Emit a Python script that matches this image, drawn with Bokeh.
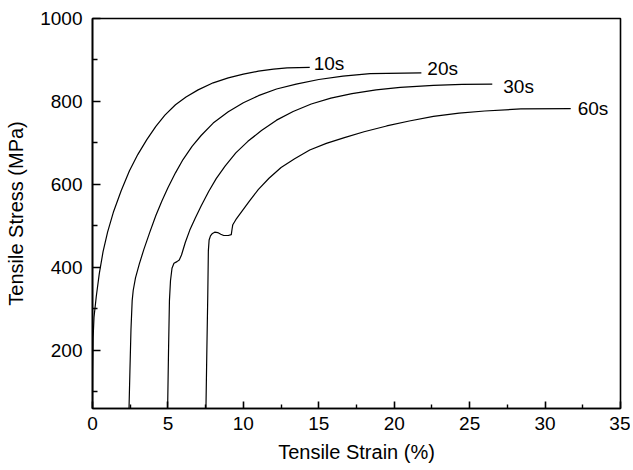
from bokeh.plotting import figure
from bokeh.models import FixedTicker, ColumnDataSource, Range1d
from bokeh.core.properties import value
from bokeh.embed import file_html
from bokeh.resources import INLINE

# ---------------- data ----------------
x_10s = [0.0, 0.01, 0.04, 0.1, 0.25, 0.45, 0.7, 1.0, 1.4, 1.9, 2.45, 3.0, 3.6, 4.2, 4.8,
         5.5, 6.2, 7.0, 8.0, 9.0, 10.0, 11.0, 12.0, 12.9, 14.4]
y_10s = [60, 150, 230, 280, 330, 385, 438, 485, 535, 585, 633, 672, 708, 740, 767,
         792, 811, 828, 845, 857, 866, 873, 878, 881, 882]

x_20s = [2.42, 2.48, 2.55, 2.63, 2.7, 2.85, 3.1, 3.4, 3.8, 4.2, 4.6, 5.0, 5.5, 6.0, 6.6,
         7.2, 8.0, 9.0, 10.0, 11.0, 12.2, 13.5, 15.0, 16.6, 18.4, 21.8]
y_20s = [60, 150, 250, 320, 345, 375, 408, 443, 485, 525, 560, 592, 628, 660, 692,
         718, 748, 775, 797, 814, 830, 842, 853, 861, 867, 869]

x_30s = [4.98, 5.04, 5.1, 5.17, 5.27, 5.4, 5.6, 5.75, 5.9, 6.15, 6.45, 6.8, 7.2, 7.7, 8.2,
         8.8, 9.5, 10.3, 11.2, 12.2, 13.3, 14.5, 15.8, 17.2, 18.8, 20.4, 22.6, 24.5, 26.5]
y_30s = [60, 200, 320, 368, 398, 410, 414, 418, 430, 460, 490, 518, 548, 583, 614,
         645, 676, 704, 730, 755, 776, 794, 808, 819, 828, 834, 839, 841, 842]

x_60s = [7.52, 7.58, 7.64, 7.68, 7.73, 7.82, 7.95, 8.1, 8.3, 8.5, 8.7, 9.0, 9.2, 9.25, 9.3,
         9.5, 9.9, 10.4, 11.0, 11.7, 12.5, 13.4, 14.4, 15.5, 16.7, 18.0, 19.5, 21.0, 22.6,
         24.3, 26.0, 28.4, 31.7]
y_60s = [60, 200, 330, 440, 466, 476, 482, 485, 484, 480, 477, 477, 479, 492, 503,
         515, 535, 560, 588, 615, 641, 662, 683, 699, 713, 727, 741, 753, 764,
         772, 777, 782, 783]

series_labels = ["10s", "20s", "30s", "60s"]

x_ticks = [0, 5, 10, 15, 20, 25, 30, 35]
x_minor = [2.5, 7.5, 12.5, 17.5, 22.5, 27.5, 32.5]
y_ticks = [200, 400, 600, 800, 1000]
y_minor = [100, 300, 500, 700, 900]

x_title = "Tensile Strain (%)"
y_title = "Tensile Stress (MPa)"

# ---------------- figure ----------------
FONT = "Liberation Sans"

p = figure(
    x_range=Range1d(0, 35), y_range=Range1d(60, 1000),
    frame_width=528, frame_height=390,
    min_border_left=92, min_border_right=10, min_border_top=18, min_border_bottom=60,
    output_backend="svg", toolbar_location=None,
)
p.background_fill_color = "white"
p.border_fill_color = "white"
p.outline_line_color = "black"
p.outline_line_width = 1.6
p.xgrid.visible = False
p.ygrid.visible = False

xs = [x_10s, x_20s, x_30s, x_60s]
ys = [y_10s, y_20s, y_30s, y_60s]
for xv, yv in zip(xs, ys):
    p.line(xv, yv, line_color="black", line_width=1.2, line_join="round")

# curve end labels (screen offsets: positive y is downward)
label_dx = [4, 6, 11, 7]
label_dy = [-4, -4, 2, 0]
lab_src = ColumnDataSource(dict(
    x=[xv[-1] for xv in xs],
    y=[yv[-1] for yv in ys],
    t=series_labels,
    dx=label_dx,
    dy=label_dy,
))
p.text(x="x", y="y", text="t", x_offset="dx", y_offset="dy", source=lab_src,
       text_font=value(FONT), text_font_size="19px", text_color="black",
       text_align="left", text_baseline="middle")

# axes
for ax in (p.xaxis[0], p.yaxis[0]):
    ax.axis_line_width = 1.6
    ax.axis_line_color = "black"
    ax.major_tick_line_color = "black"
    ax.minor_tick_line_color = "black"
    ax.major_tick_line_width = 1.6
    ax.minor_tick_line_width = 1.4
    ax.major_tick_out = 0
    ax.minor_tick_out = 0
    ax.major_label_text_font = FONT
    ax.major_label_text_font_size = "19px"
    ax.major_label_text_color = "black"
    ax.axis_label_text_font = FONT
    ax.axis_label_text_font_size = "20px"
    ax.axis_label_text_font_style = "normal"
    ax.axis_label_text_color = "black"

p.xaxis[0].ticker = FixedTicker(ticks=x_ticks, minor_ticks=x_minor)
p.yaxis[0].ticker = FixedTicker(ticks=y_ticks, minor_ticks=y_minor)
p.xaxis[0].major_tick_in = 7
p.xaxis[0].minor_tick_in = 4
p.yaxis[0].major_tick_in = 8
p.yaxis[0].minor_tick_in = 5
p.xaxis[0].major_label_standoff = 8
p.yaxis[0].major_label_standoff = 10
p.xaxis[0].axis_label = x_title
p.yaxis[0].axis_label = y_title
p.xaxis[0].axis_label_standoff = 8
p.yaxis[0].axis_label_standoff = 10

open("out.html", "w").write(file_html(p, INLINE))
